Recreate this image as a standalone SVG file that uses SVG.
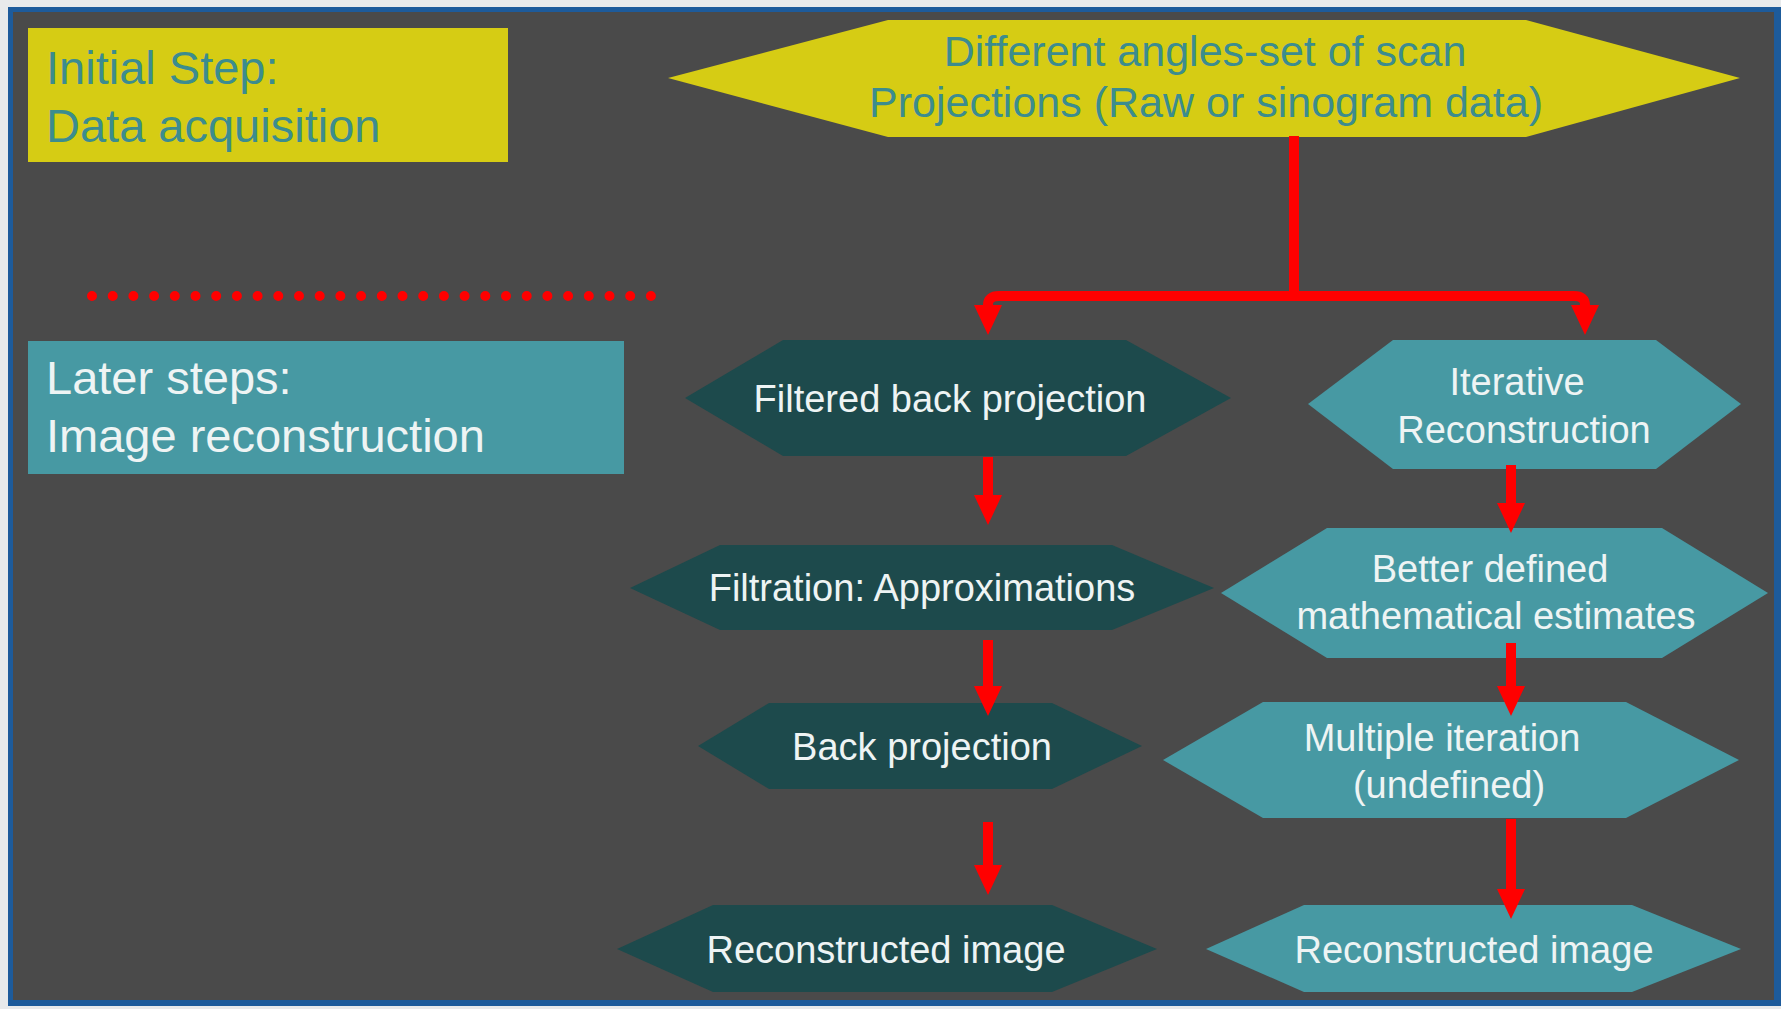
<svg xmlns="http://www.w3.org/2000/svg" width="1781" height="1009" viewBox="0 0 1781 1009">
  <defs>
    <style>
      .lbl { font-family: "Liberation Sans", Arial, sans-serif; }
      .white { fill: #eef4f4; font-size: 38px; text-anchor: middle; }
      .dark { fill: #1d4a4c; }
      .light { fill: #4799a3; }
      .yel { fill: #d6cc14; }
      .conn { fill: none; stroke: #ff0000; stroke-width: 10; }
    </style>
    <marker id="ah" markerUnits="userSpaceOnUse" viewBox="0 0 30 28" markerWidth="30" markerHeight="28" refX="0" refY="14" orient="auto">
      <path d="M0,0 L30,14 L0,28 Z" fill="#ff0000"/>
    </marker>
  </defs>

  <rect x="0" y="0" width="1781" height="1009" fill="#e8eaeb"/>
  <rect x="8" y="7" width="1773" height="999" fill="#1d5b9b"/>
  <rect x="13" y="12" width="1761" height="988" fill="#4a4a4a"/>

  <g id="initial-step">
    <rect class="yel" x="28" y="28" width="480" height="134"/>
    <text class="lbl" x="46" y="84" font-size="47" fill="#3c8c8e">Initial Step:</text>
    <text class="lbl" x="46" y="142" font-size="47" fill="#3c8c8e">Data acquisition</text>
  </g>

  <g id="later-steps">
    <rect class="light" x="28" y="341" width="596" height="133"/>
    <text class="lbl" x="46" y="394" font-size="47" fill="#eef4f4">Later steps:</text>
    <text class="lbl" x="46" y="452" font-size="47" fill="#eef4f4">Image reconstruction</text>
  </g>

  <g id="projections">
    <polygon class="yel" points="668,78 888,20 1526,20 1740,78 1526,137 888,137"/>
    <text class="lbl" x="1205" y="66" font-size="43" fill="#3c8c8e" text-anchor="middle">Different angles-set of scan</text>
    <text class="lbl" x="1206" y="117" font-size="43" fill="#3c8c8e" text-anchor="middle">Projections (Raw or sinogram data)</text>
  </g>

  <g id="fbp">
    <polygon class="dark" points="685,398 783,340 1126,340 1231,398 1126,456 783,456"/>
    <text class="lbl white" x="950" y="412">Filtered back projection</text>
  </g>

  <g id="filtration">
    <polygon class="dark" points="630,588 720,545 1112,545 1214,588 1112,630 720,630"/>
    <text class="lbl white" x="922" y="601">Filtration: Approximations</text>
  </g>

  <g id="back-projection">
    <polygon class="dark" points="698,746 769,703 1052,703 1142,746 1052,789 769,789"/>
    <text class="lbl white" x="922" y="760">Back projection</text>
  </g>

  <g id="reconstructed-left">
    <polygon class="dark" points="617,949 713,905 1052,905 1157,949 1052,992 713,992"/>
    <text class="lbl white" x="886" y="963">Reconstructed image</text>
  </g>

  <g id="iterative">
    <polygon class="light" points="1308,404 1393,340 1656,340 1741,404 1656,469 1393,469"/>
    <text class="lbl white" x="1517" y="395">Iterative</text>
    <text class="lbl white" x="1524" y="443">Reconstruction</text>
  </g>

  <g id="better-defined">
    <polygon class="light" points="1221,593 1327,528 1662,528 1768,593 1662,658 1327,658"/>
    <text class="lbl white" x="1490" y="582">Better defined</text>
    <text class="lbl white" x="1496" y="629">mathematical estimates</text>
  </g>

  <g id="multiple-iteration">
    <polygon class="light" points="1163,760 1263,702 1626,702 1739,760 1626,818 1263,818"/>
    <text class="lbl white" x="1442" y="751">Multiple iteration</text>
    <text class="lbl white" x="1449" y="798">(undefined)</text>
  </g>

  <g id="reconstructed-right">
    <polygon class="light" points="1206,949 1304,905 1632,905 1741,949 1632,992 1304,992"/>
    <text class="lbl white" x="1474" y="963">Reconstructed image</text>
  </g>

  <g id="connectors">
    <line x1="92" y1="296" x2="652" y2="296" stroke="#ff0000" stroke-width="10" stroke-linecap="round" stroke-dasharray="0 20.7"/>
    <path class="conn" d="M1294,136 V296"/>
    <path class="conn" d="M1294,296 H999 Q988,296 988,305" marker-end="url(#ah)"/>
    <path class="conn" d="M1294,296 H1574 Q1585,296 1585,305" marker-end="url(#ah)"/>
    <path class="conn" d="M988,457 V495" marker-end="url(#ah)"/>
    <path class="conn" d="M988,640 V686" marker-end="url(#ah)"/>
    <path class="conn" d="M988,822 V865" marker-end="url(#ah)"/>
    <path class="conn" d="M1511,465 V503" marker-end="url(#ah)"/>
    <path class="conn" d="M1511,643 V686" marker-end="url(#ah)"/>
    <path class="conn" d="M1511,819 V889" marker-end="url(#ah)"/>
  </g>
</svg>
